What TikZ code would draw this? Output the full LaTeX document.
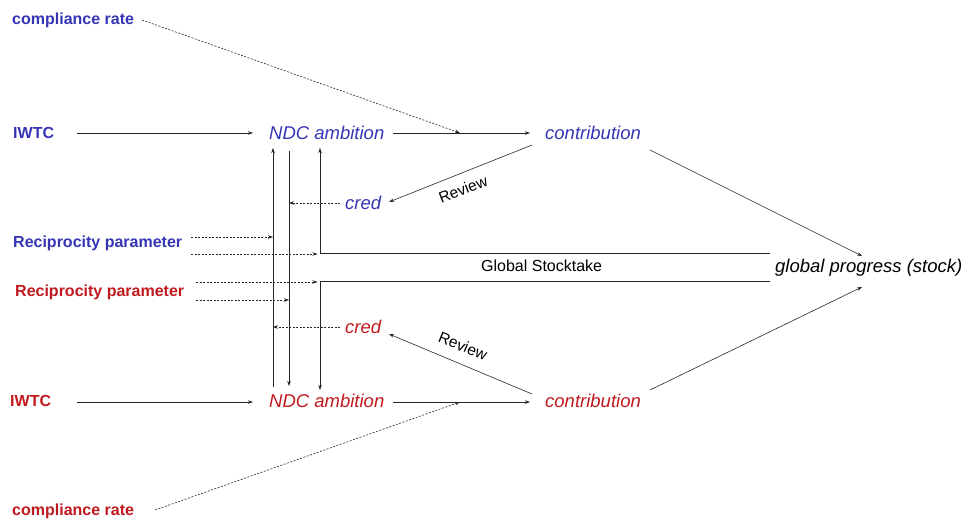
\documentclass[tikz,border=0pt]{standalone}
\usepackage{fontspec}
\setmainfont{Liberation Sans}
\usetikzlibrary{arrows.meta}
\definecolor{cblue}{RGB}{53,53,181}
\definecolor{cred}{RGB}{192,26,30}
\begin{document}
\begin{tikzpicture}[x=1pt,y=-1pt,
  lbl/.style={font=\fontsize{16}{19}\selectfont\bfseries, anchor=west, inner sep=0pt},
  itl/.style={font=\fontsize{18.5}{22}\selectfont\itshape, anchor=west, inner sep=0pt},
  arr/.style={-{Stealth[length=5pt,width=3.5pt]}, line width=0.6pt, draw=black!85},
  dsh/.style={arr, dash pattern=on 2pt off 1.5pt},
  ln/.style={line width=0.6pt, draw=black!85},
  rev/.style={font=\fontsize{15.5}{18}\selectfont, inner sep=0pt}]
\useasboundingbox (0,0) rectangle (964,519);

% ---- nodes ----
\node[lbl, text=cblue] (cr1) at (12,20) {compliance rate};
\node[lbl, text=cblue] (iw1) at (13,133) {IWTC};
\node[itl, text=cblue] (ndc1) at (269,133) {NDC ambition};
\node[itl, text=cblue] (con1) at (545,133) {contribution};
\node[itl, text=cblue] (cred1) at (345,203) {cred};
\node[lbl, text=cblue] (rp1) at (13,243) {Reciprocity parameter};
\node[lbl, text=cred] (rp2) at (15,292) {Reciprocity parameter};
\node[itl, text=cred] (cred2) at (345,327) {cred};
\node[lbl, text=cred] (iw2) at (10,401) {IWTC};
\node[itl, text=cred] (ndc2) at (269,401) {NDC ambition};
\node[itl, text=cred] (con2) at (545,401) {contribution};
\node[lbl, text=cred] (cr2) at (12,511) {compliance rate};
\node[itl] (gp) at (775,268) {global progress (stock)};
\node[font=\fontsize{16}{19}\selectfont, anchor=west, inner sep=0pt] (gst) at (481,266) {Global Stocktake};
\node[rev, rotate=21] (rv1) at (463,189) {Review};
\node[rev, rotate=-22] (rv2) at (463,346) {Review};

% ---- helper coordinates ----
\coordinate (i1s) at (77,133);   \coordinate (n1w) at (253,133);
\coordinate (n1e) at (393,133);  \coordinate (c1w) at (530,133);
\coordinate (m1) at (460,133);   \coordinate (cr1e) at (142,20);
\coordinate (i2s) at (77,402);   \coordinate (n2w) at (253,402);
\coordinate (n2e) at (393,402);  \coordinate (c2w) at (530,402);
\coordinate (m2) at (460,402);   \coordinate (cr2e) at (155,510);
\coordinate (c1se) at (650,150); \coordinate (gpn) at (862,256);
\coordinate (c2ne) at (650,390); \coordinate (gps) at (862,287);
\coordinate (c1sw) at (532,145); \coordinate (cr1x) at (389,202);
\coordinate (c2nw) at (532,394); \coordinate (cr2x) at (389,334);
% vertical lines
\coordinate (a1) at (273,387); \coordinate (a2) at (273,148);
\coordinate (b1) at (289,151); \coordinate (b2) at (289,386);
\coordinate (g1) at (320,253); \coordinate (g2) at (320,148);
\coordinate (g3) at (770,253);
\coordinate (h1) at (320,281); \coordinate (h2) at (320,390);
\coordinate (h3) at (770,281);
% dashed inputs
\coordinate (p1a) at (191,237); \coordinate (p1b) at (273,237);
\coordinate (p2a) at (191,254); \coordinate (p2b) at (320,254);
\coordinate (p3a) at (196,282); \coordinate (p3b) at (320,282);
\coordinate (p4a) at (196,300); \coordinate (p4b) at (289,300);
\coordinate (cd1a) at (340,203); \coordinate (cd1b) at (289,203);
\coordinate (cd2a) at (340,327); \coordinate (cd2b) at (273,327);

% ---- connectors ----
\draw[arr] (i1s) -- (n1w);
\draw[arr] (n1e) -- (c1w);
\draw[dsh] (cr1e) -- (m1);
\draw[arr] (i2s) -- (n2w);
\draw[arr] (n2e) -- (c2w);
\draw[dsh] (cr2e) -- (m2);
\draw[arr] (c1se) -- (gpn);
\draw[arr] (c2ne) -- (gps);
\draw[arr] (c1sw) -- (cr1x);
\draw[arr] (c2nw) -- (cr2x);

\draw[arr] (a1) -- (a2);
\draw[arr] (b1) -- (b2);
\draw[arr] (g3) -- (g1) -- (g2);
\draw[arr] (h3) -- (h1) -- (h2);

\draw[dsh] (p1a) -- (p1b);
\draw[dsh] (p2a) -- ([xshift=-2.5pt]p2b);
\draw[dsh] (p3a) -- ([xshift=-2.5pt]p3b);
\draw[dsh] (p4a) -- (p4b);
\draw[dsh] (cd1a) -- (cd1b);
\draw[dsh] (cd2a) -- (cd2b);
\end{tikzpicture}
\end{document}
